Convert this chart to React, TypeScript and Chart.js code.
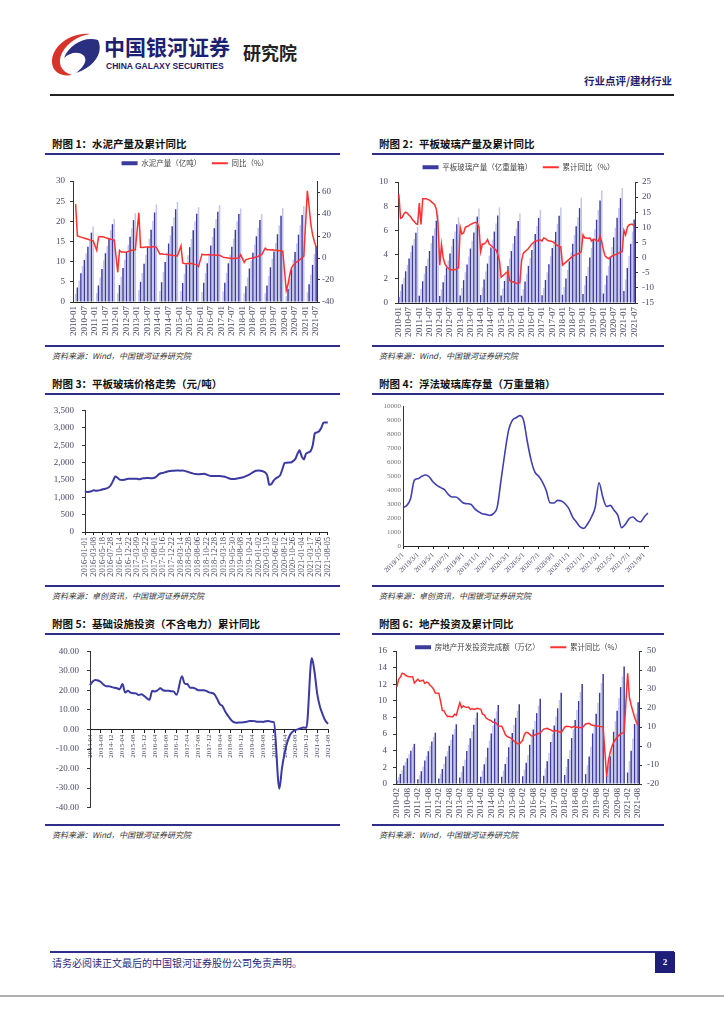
import React, { useEffect, useRef } from "react";
import { Chart, registerables } from "chart.js";

Chart.register(...registerables);

// ---------------- categories ----------------
function monthRange(y0: number, m0: number, y1: number, m1: number): string[] {
  const out: string[] = [];
  let y = y0;
  let m = m0;
  while (y < y1 || (y === y1 && m <= m1)) {
    out.push(`${y}-${m < 10 ? "0" + m : m}`);
    m += 1;
    if (m > 12) {
      m = 1;
      y += 1;
    }
  }
  return out;
}
function sparse(ticks: string[], n: number, every: number): string[] {
  const out: string[] = [];
  for (let i = 0; i < n; i++) out.push(i % every === 0 && ticks[i / every] ? ticks[i / every] : "");
  return out;
}

const cementMonths = monthRange(2010, 1, 2021, 7);
const glassMonths = monthRange(2010, 1, 2021, 7);
const estateMonths = monthRange(2010, 2, 2021, 8);
const infraMonths = monthRange(2014, 4, 2021, 8);

const priceTickDates = [
  "2016-01-01", "2016-03-08", "2016-05-18", "2016-07-28", "2016-10-14", "2016-12-22",
  "2017-03-09", "2017-05-22", "2017-08-01", "2017-10-16", "2017-12-22", "2018-03-14",
  "2018-05-28", "2018-08-06", "2018-10-22", "2018-12-28", "2019-03-18", "2019-05-30",
  "2019-08-08", "2019-10-24", "2020-01-02", "2020-03-19", "2020-06-02", "2020-08-12",
  "2020-10-26", "2021-01-04", "2021-03-17", "2021-05-26", "2021-08-05",
];
const stockTickDates = [
  "2019/1/1", "2019/3/1", "2019/5/1", "2019/7/1", "2019/9/1", "2019/11/1",
  "2020/1/1", "2020/3/1", "2020/5/1", "2020/7/1", "2020/9/1", "2020/11/1",
  "2021/1/1", "2021/3/1", "2021/5/1", "2021/7/1", "2021/9/1",
];

// ---------------- series ----------------
// 附图1 水泥产量（亿吨，年内累计）与累计同比（%）
const cementOutput = [
  null, 2.0, 3.6, 5.3, 7.1, 8.9, 10.4, 12.0, 13.7, 15.5, 17.2, 18.7,
  null, 2.2, 4.1, 6.1, 8.2, 10.3, 12.1, 13.9, 15.8, 17.8, 19.3, 20.6,
  null, 2.1, 4.2, 6.3, 8.4, 10.5, 12.4, 14.2, 16.2, 18.3, 20.3, 22.0,
  null, 3.0, 5.0, 7.2, 9.5, 11.7, 13.7, 15.7, 17.9, 20.1, 22.2, 24.2,
  null, 2.7, 4.9, 7.4, 9.9, 12.3, 14.5, 16.5, 18.8, 21.0, 23.0, 24.8,
  null, 2.7, 4.7, 7.0, 9.3, 11.6, 13.6, 15.6, 17.8, 20.0, 21.9, 23.5,
  null, 2.5, 4.8, 7.2, 9.6, 12.0, 14.0, 16.1, 18.3, 20.5, 22.4, 24.0,
  null, 2.6, 4.8, 7.2, 9.6, 11.7, 13.7, 15.7, 17.9, 20.0, 21.8, 23.2,
  null, 2.1, 3.9, 6.1, 8.3, 10.3, 12.2, 14.2, 16.3, 18.4, 20.3, 21.8,
  null, 2.2, 4.1, 6.4, 8.6, 10.7, 12.5, 14.6, 16.8, 19.0, 21.4, 23.3,
  null, 1.5, 3.3, 5.7, 8.2, 10.5, 12.4, 14.5, 16.7, 19.0, 21.6, 23.8,
  null, 2.4, 4.4, 6.8, 9.2, 11.9, 13.9,
];
const cementYoY = [
  null, 49, 20, 19.5, 19, 18.5, 18, 17.5, 17, 16.5, 16, 15.5,
  null, 7, 19, 19.5, 19.3, 19, 18.5, 18, 17.5, 17, 16.8, 16.1,
  null, -13, 7, 5.5, 5.5, 5.3, 5.5, 6, 6.5, 7, 7.3, 7.4,
  null, 41, 9.7, 9.5, 9.8, 10, 10, 9.8, 10, 10.2, 10.4, 9.6,
  null, 3.5, 3.8, 3.5, 3.3, 3.2, 3, 2.8, 2.5, 2.2, 2, 1.8,
  null, 11, -4.5, -5, -5.2, -5, -5, -5, -5.5, -5.8, -6, -7.8,
  null, 3.5, 3, 3, 3, 3, 3, 2.8, 2.7, 2.6, 2.5, 2.5,
  null, 0.8, 0.5, 0.3, 0, -0.2, -0.5, -0.5, -0.3, -0.2, 0, 3,
  null, -4, -1.5, -1, -0.5, -0.3, 0, 0.5, 1, 1.5, 2.5, 3,
  null, 9, 7.5, 7.5, 7.3, 7.5, 7.2, 7, 6.8, 6.5, 6.5, 6.1,
  null, -29.5, -23.9, -15, -9, -6.5, -4.8, -3.5, -2.5, -1, 0, 1.6,
  null, 61, 47, 30.5, 21, 15, 10,
];

// 附图2 平板玻璃产量（亿重量箱）与累计同比（%）
const glassOutput = [
  0.5, 1.0, 1.55, 2.08, 2.62, 3.15, 3.68, 4.22, 4.75, 5.28, 5.8, 6.3,
  0.6, 1.18, 1.8, 2.42, 3.05, 3.68, 4.3, 4.93, 5.55, 6.18, 6.8, 7.4,
  0.57, 1.12, 1.72, 2.31, 2.91, 3.51, 4.1, 4.7, 5.3, 5.9, 6.5, 7.1,
  0.63, 1.24, 1.89, 2.54, 3.19, 3.84, 4.5, 5.15, 5.82, 6.48, 7.14, 7.8,
  0.66, 1.28, 1.95, 2.6, 3.26, 3.91, 4.58, 5.24, 5.9, 6.57, 7.24, 7.9,
  0.62, 1.2, 1.82, 2.44, 3.06, 3.68, 4.29, 4.91, 5.53, 6.15, 6.77, 7.4,
  0.6, 1.15, 1.78, 2.42, 3.07, 3.72, 4.38, 5.04, 5.7, 6.36, 7.03, 7.7,
  0.64, 1.25, 1.9, 2.55, 3.21, 3.87, 4.54, 5.21, 5.88, 6.55, 7.22, 7.9,
  0.68, 1.32, 2.03, 2.74, 3.45, 4.17, 4.89, 5.62, 6.35, 7.08, 7.84, 8.7,
  0.75, 1.46, 2.23, 3.0, 3.77, 4.54, 5.31, 6.09, 6.88, 7.68, 8.48, 9.3,
  0.78, 1.5, 2.27, 3.05, 3.84, 4.63, 5.43, 6.23, 7.04, 7.85, 8.67, 9.5,
  1.0, 1.95, 2.9, 3.9, 4.9, 5.9, 6.9,
];
const glassYoY = [
  21, 13, 13.3, 14.5, 15, 14.7, 14, 13.5, 12.5, 12, 11.2, 11,
  18, 11, 19.5, 19.5, 19.5, 19.2, 19, 18.5, 18, 17.5, 16, 11,
  -2.5, 4.3, 0, -2, -3, -3.5, -4, -4, -4, -4, -3.7, -3.3,
  10, 7.8, 8.2, 10, 10.3, 10.5, 11, 11.2, 11.5, 11.7, 11.3, 10,
  2, 4.5, 4.5, 5, 6, 4.5, 4, 3.5, 3, 2.5, 1, -1,
  -6.5, -6, -5.5, -5, -4.5, -7.5, -8, -8, -8.3, -8.5, -8.5, -8.3,
  -1, 1.5, 2, 2.5, 3, 3.8, 4.5, 5, 5.5, 5.6, 5.8, 5.8,
  5.5, 6.5, 6.3, 5.8, 5.5, 5.5, 5.3, 5, 4.5, 4, 3.8, 3.5,
  -2.5, -2, -1.5, -1, -0.5, 0, 0.5, 0.8, 1, 1.3, 1.5, 2,
  7.5, 6.5, 6.5, 6.3, 6.5, 5.5, 6, 6, 5.5, 5.5, 7, 5.2,
  2.5, 0.5, 0, -0.3, 0, 0.5, 0.8, 1, 1.2, 1.5, 1.8, 2,
  9, 7.5, 10, 10.8, 11, 11, 10.5,
];

// 附图3 平板玻璃价格（元/吨）
const glassPrice = [
  1180, 1150, 1160, 1175, 1200, 1190, 1195, 1205, 1225, 1240, 1255, 1285,
  1360, 1480, 1600, 1560, 1510, 1500, 1505, 1520, 1530, 1530, 1530, 1535,
  1530, 1515, 1535, 1545, 1550, 1555, 1550, 1550, 1560, 1600, 1660, 1690,
  1700, 1720, 1740, 1755, 1760, 1765, 1770, 1770, 1765, 1770, 1760, 1740,
  1720, 1700, 1680, 1670, 1665, 1665, 1670, 1675, 1655, 1630, 1615, 1610,
  1610, 1610, 1610, 1605, 1595, 1580, 1555, 1535, 1525, 1525, 1540, 1550,
  1560, 1575, 1600, 1630, 1660, 1700, 1740, 1765, 1770, 1765, 1750, 1720,
  1640, 1360, 1380, 1480, 1540, 1580, 1630, 1800, 1980, 1995, 2000, 2000,
  2040, 2100, 2250, 2350, 2170, 2090, 2260, 2290, 2320, 2480, 2840, 2870,
  2900, 3000, 3150, 3150, 3150,
];

// 附图4 浮法玻璃库存（万重量箱）
const glassStock = [
  2740, 2900, 3380, 4690, 4810, 4980, 5070, 4930, 4570, 4330, 4170, 4020,
  3690, 3500, 3500, 3310, 3070, 3020, 2980, 2670, 2450, 2310, 2260, 2190,
  2310, 2780, 4690, 6590, 8260, 8970, 9160, 9310, 8970, 7430, 6120, 5280,
  4980, 4570, 3970, 3090, 3070, 3260, 3210, 3020, 2670, 2070, 1710, 1360,
  1260, 1590, 2070, 2780, 4520, 3500, 2830, 2900, 2550, 2190, 1310, 1550,
  1950, 2070, 1830, 1710, 2070, 2360,
];

// 附图5 基础设施投资（不含电力）累计同比（%）
const infraYoY = [
  22.7, 24.6, 25.4, 25.1, 24.3, 23.0, 22.2, 22.2, 21.7,
  null, 21.1, 20.6, 23.3, 18.9, 19.8, 18.9, 18.6, 18.5, 17.7, 18.1, 17.2,
  null, 15.2, 19.8, 19.4, 20.1, 21.1, 20.1, 19.8, 19.8, 19.6, 19.4, 17.8,
  null, 27.3, 23.5, 23.3, 21.4, 21.4, 20.9, 20.1, 20.1, 20.1, 19.8, 19.0,
  null, 18.1, 15.7, 13.0, 12.0, 9.2, 7.1, 5.2, 3.9, 3.4, 3.6, 3.6,
  null, 4.0, 4.4, 4.4, 4.2, 4.0, 4.0, 3.9, 4.2, 4.4, 4.0, 3.7,
  null, -30.3, -19.7, -11.8, -6.3, -2.7, -1.0, -0.3, 0.2, 0.7, 1.0, 0.9,
  null, 36.6, 29.7, 18.4, 11.8, 7.8, 4.6, 2.9,
];

// 附图6 房地产开发投资完成额（万亿）与累计同比（%）
const estateInvest = [
  0.43, 0.82, 1.21, 1.64, 2.22, 2.66, 3.09, 3.57, 4.01, 4.44, 4.83,
  null, 0.56, 1.05, 1.54, 2.1, 2.84, 3.39, 3.95, 4.57, 5.12, 5.68, 6.17,
  null, 0.65, 1.22, 1.8, 2.44, 3.3, 3.95, 4.6, 5.31, 5.96, 6.61, 7.18,
  null, 0.77, 1.46, 2.15, 2.92, 3.96, 4.73, 5.5, 6.36, 7.14, 7.91, 8.6,
  null, 0.86, 1.62, 2.38, 3.23, 4.37, 5.23, 6.08, 7.03, 7.89, 8.74, 9.5,
  null, 0.86, 1.63, 2.4, 3.26, 4.42, 5.28, 6.14, 7.1, 7.97, 8.83, 9.6,
  null, 0.92, 1.74, 2.57, 3.49, 4.72, 5.64, 6.57, 7.59, 8.52, 9.44, 10.26,
  null, 0.99, 1.87, 2.75, 3.73, 5.05, 6.04, 7.03, 8.13, 9.11, 10.1, 10.98,
  null, 1.08, 2.05, 3.01, 4.09, 5.53, 6.62, 7.7, 8.9, 9.98, 11.07, 12.03,
  null, 1.19, 2.25, 3.31, 4.49, 6.08, 7.27, 8.46, 9.78, 10.97, 12.16, 13.22,
  null, 1.0, 2.16, 3.34, 4.58, 6.29, 7.55, 8.82, 10.31, 11.66, 12.94, 14.14,
  null, 1.38, 2.76, 4.01, 5.46, 7.22, 8.49, 9.83,
];
const estateYoY = [
  31.1, 35.1, 36.2, 38.2, 38.1, 37.2, 36.7, 36.4, 36.5, 36.5, 33.2,
  null, 35.2, 34.1, 34.3, 34.6, 32.9, 33.6, 33.2, 32.0, 31.1, 29.9, 27.9,
  null, 27.8, 23.5, 18.7, 18.5, 16.6, 15.4, 15.6, 15.4, 15.4, 16.7, 16.2,
  null, 22.8, 20.2, 21.1, 20.6, 20.3, 20.5, 19.3, 19.7, 19.2, 19.5, 19.8,
  null, 19.3, 16.8, 16.4, 14.7, 14.1, 13.7, 13.2, 12.5, 12.4, 11.9, 10.5,
  null, 10.4, 8.5, 6.0, 5.1, 4.6, 4.3, 3.5, 2.6, 2.0, 1.3, 1.0,
  null, 3.0, 6.2, 7.2, 7.0, 6.1, 5.3, 5.4, 5.8, 6.6, 6.5, 6.9,
  null, 8.9, 9.1, 9.3, 8.8, 8.5, 7.9, 7.9, 8.1, 7.8, 7.5, 7.0,
  null, 9.9, 10.4, 10.3, 10.2, 9.7, 10.2, 10.1, 9.9, 9.7, 9.7, 9.5,
  null, 11.6, 11.8, 11.9, 11.2, 10.9, 10.6, 10.5, 10.5, 10.3, 10.2, 9.9,
  null, -16.3, -7.7, -3.3, -0.3, 1.9, 3.4, 4.6, 5.6, 6.3, 6.8, 7.0,
  null, 38.3, 25.6, 21.6, 18.3, 15.0, 12.7, 10.9,
];

const priceCats = sparse(priceTickDates, glassPrice.length, 4);
const stockCats = sparse(stockTickDates, glassStock.length, 4);

// ---------------- styles ----------------
const SERIF = "'Liberation Serif', 'DejaVu Serif', serif";
const CJK = "'Noto Sans CJK SC', 'Noto Sans', sans-serif";
const NAVY = "#2e2e8c";
const DARK = "#3b3b9c";
const LIGHT = "#c4c4ea";
const RED = "#ff3030";
const LINE_BLUE = "#3a3aa2";
const AXIS = "#333333";
const TICK = "#4a4a6a";

const barColor = (c: any) => (c.dataIndex % 2 ? LIGHT : DARK);

const legendShift = {
  id: "legendShift",
  afterLayout(chart: any, _args: any, opts: any) {
    const l = chart.legend;
    if (l && opts && opts.dy) {
      l.top += opts.dy;
      l.bottom += opts.dy;
    }
  },
};

function legendOpts() {
  return {
    display: true,
    position: "top",
    align: "center",
    labels: {
      font: { family: CJK, size: 7.5 },
      color: "#444",
      usePointStyle: true,
      pointStyleWidth: 16,
      padding: 10.5,
      sort: (a: any, b: any) => a.datasetIndex - b.datasetIndex,
      generateLabels(chart: any) {
        const items = (Chart.defaults.plugins.legend.labels as any).generateLabels(chart);
        return items.map((it: any) => {
          const ds = chart.data.datasets[it.datasetIndex];
          const bar = ds.type === "bar";
          return {
            ...it,
            pointStyle: "line",
            strokeStyle: bar ? DARK : RED,
            fillStyle: bar ? DARK : RED,
            lineWidth: bar ? 4 : 2,
            lineCap: "butt",
          };
        });
      },
    },
  };
}

function yScale(o: {
  min: number; max: number; step: number; width?: number; position?: string;
  size?: number; pad?: number; marks?: boolean; fmt?: (v: number) => string; color?: string;
}) {
  const marks = o.marks !== false;
  const s: any = {
    type: "linear",
    position: o.position || "left",
    min: o.min,
    max: o.max,
    grid: { display: marks, drawOnChartArea: false, drawTicks: marks, tickLength: 3, color: AXIS },
    border: { display: true, color: AXIS, width: 1 },
    ticks: {
      stepSize: o.step,
      color: o.color || TICK,
      font: { family: SERIF, size: o.size || 9 },
      padding: o.pad === undefined ? 5 : o.pad,
      callback: o.fmt || ((v: number) => String(v)),
    },
  };
  if (o.width !== undefined) {
    const w = o.width;
    s.afterFit = (sc: any) => {
      sc.width = w;
    };
  }
  return s;
}

function xBarScale(height: number, size: number, show: (l: string) => boolean) {
  return {
    type: "category",
    grid: { display: false, drawTicks: false },
    border: { display: true, color: "#222", width: 1 },
    ticks: {
      autoSkip: false,
      minRotation: 90,
      maxRotation: 90,
      padding: 4,
      color: TICK,
      font: { family: SERIF, size },
      callback(this: any, value: any) {
        const l = this.getLabelForValue(value);
        return show(l) ? l : "";
      },
    },
    afterFit: (sc: any) => {
      sc.height = height;
    },
  };
}

function xSparseScale(size: number, rotation: number, height?: number, every?: number) {
  const s: any = {
    type: "category",
    grid: {
      display: true,
      drawOnChartArea: false,
      drawTicks: true,
      tickLength: 3,
      color: (c: any) => (c.tick && c.tick.label ? "#222" : "rgba(0,0,0,0)"),
    },
    border: { display: true, color: "#222", width: 1 },
    ticks: {
      autoSkip: false,
      minRotation: rotation,
      maxRotation: rotation,
      padding: 2,
      color: TICK,
      font: { family: SERIF, size },
      callback(this: any, value: any, index: number) {
        const l = this.getLabelForValue(value);
        if (every) return index % every === 0 ? l : "";
        return l;
      },
    },
  };
  if (height !== undefined) {
    s.afterFit = (sc: any) => {
      sc.height = height;
    };
  }
  return s;
}

const baseOpts = {
  responsive: false,
  animation: false,
  devicePixelRatio: 1,
  events: [],
};

// ---------------- chart configs ----------------
const cfgCement = () => ({
  type: "bar",
  data: {
    labels: cementMonths,
    datasets: [
      { type: "bar", label: "水泥产量（亿吨）", data: cementOutput, backgroundColor: barColor, yAxisID: "y", order: 2, barPercentage: 1, categoryPercentage: 0.85 },
      { type: "line", label: "同比（%）", data: cementYoY, borderColor: RED, backgroundColor: RED, borderWidth: 1.5, pointRadius: 0, spanGaps: true, yAxisID: "y1", order: 1 },
    ],
  },
  options: {
    ...baseOpts,
    layout: { padding: 0 },
    plugins: { legend: legendOpts(), tooltip: { enabled: false }, legendShift: { dy: -4 } },
    scales: {
      x: xBarScale(43, 9, (l) => l.endsWith("-01") || l.endsWith("-07")),
      y: yScale({ min: 0, max: 30, step: 5, width: 28 }),
      y1: yScale({ min: -40, max: 70, step: 10, width: 28, position: "right", pad: 2 }),
    },
  },
  plugins: [legendShift],
});

const cfgGlass = () => ({
  type: "bar",
  data: {
    labels: glassMonths,
    datasets: [
      { type: "bar", label: "平板玻璃产量（亿重量箱）", data: glassOutput, backgroundColor: barColor, yAxisID: "y", order: 2, barPercentage: 1, categoryPercentage: 0.85 },
      { type: "line", label: "累计同比（%）", data: glassYoY, borderColor: RED, backgroundColor: RED, borderWidth: 1.5, pointRadius: 0, spanGaps: true, yAxisID: "y1", order: 1 },
    ],
  },
  options: {
    ...baseOpts,
    layout: { padding: 0 },
    plugins: { legend: legendOpts(), tooltip: { enabled: false }, legendShift: { dy: -1 } },
    scales: {
      x: xBarScale(42, 9, (l) => l.endsWith("-01") || l.endsWith("-07")),
      y: yScale({ min: 0, max: 10, step: 1, width: 26, pad: 7 }),
      y1: yScale({ min: -15, max: 25, step: 5, width: 30, position: "right", pad: 4 }),
    },
  },
  plugins: [legendShift],
});

const cfgPrice = () => ({
  type: "line",
  data: {
    labels: priceCats,
    datasets: [
      { label: "平板玻璃价格", data: glassPrice, borderColor: LINE_BLUE, backgroundColor: LINE_BLUE, borderWidth: 2, pointRadius: 0, tension: 0.2 },
    ],
  },
  options: {
    ...baseOpts,
    layout: { padding: { top: 10, right: 7, left: 0, bottom: 0 } },
    plugins: { legend: { display: false }, tooltip: { enabled: false } },
    scales: {
      x: xSparseScale(8.5, 90, 50),
      y: yScale({ min: 0, max: 3500, step: 500, width: 40, pad: 8, fmt: (v) => Number(v).toLocaleString("en-US") }),
    },
  },
});

const cfgStock = () => ({
  type: "line",
  data: {
    labels: stockCats,
    datasets: [
      { label: "浮法玻璃库存", data: glassStock, borderColor: "#4040b0", backgroundColor: "#4040b0", borderWidth: 1.6, pointRadius: 0, cubicInterpolationMode: "monotone" },
    ],
  },
  options: {
    ...baseOpts,
    layout: { padding: { top: 10, right: 17, left: 0, bottom: 0 } },
    plugins: { legend: { display: false }, tooltip: { enabled: false } },
    scales: {
      x: xSparseScale(7, 45, 36),
      y: yScale({ min: 0, max: 10000, step: 1000, width: 31, pad: 2, marks: false, size: 7, color: "#777" }),
    },
  },
});

const cfgInfra = () => ({
  type: "line",
  data: {
    labels: infraMonths,
    datasets: [
      { label: "基础设施投资累计同比", data: infraYoY, borderColor: LINE_BLUE, backgroundColor: LINE_BLUE, borderWidth: 2, pointRadius: 0, spanGaps: true, tension: 0.3, cubicInterpolationMode: "monotone" },
    ],
  },
  options: {
    ...baseOpts,
    layout: { padding: { top: 10, right: 12, left: 0, bottom: 8 } },
    plugins: { legend: { display: false }, tooltip: { enabled: false } },
    scales: {
      x: { ...xSparseScale(7, 90, undefined, 4), position: { y: 0 } },
      y: yScale({ min: -40, max: 40, step: 10, width: 45, pad: 8, fmt: (v) => Number(v).toFixed(2) }),
    },
  },
});

const cfgEstate = () => ({
  type: "bar",
  data: {
    labels: estateMonths,
    datasets: [
      { type: "bar", label: "房地产开发投资完成额（万亿）", data: estateInvest, backgroundColor: barColor, yAxisID: "y", order: 2, barPercentage: 1, categoryPercentage: 0.85 },
      { type: "line", label: "累计同比（%）", data: estateYoY, borderColor: RED, backgroundColor: RED, borderWidth: 1.5, pointRadius: 0, spanGaps: true, yAxisID: "y1", order: 1 },
    ],
  },
  options: {
    ...baseOpts,
    layout: { padding: 0 },
    plugins: { legend: legendOpts(), tooltip: { enabled: false }, legendShift: { dy: 10 } },
    scales: {
      x: xBarScale(39, 9, (l) => l.endsWith("-02") || l.endsWith("-08")),
      y: yScale({ min: 0, max: 16, step: 2, width: 24, pad: 6 }),
      y1: yScale({ min: -20, max: 50, step: 10, width: 26, position: "right", pad: 5 }),
    },
  },
  plugins: [legendShift],
});

// ---------------- components ----------------
type Box = { left: number; top: number; width: number; height: number };

function ChartCanvas({ box, make }: { box: Box; make: () => any }) {
  const ref = useRef<HTMLCanvasElement | null>(null);
  useEffect(() => {
    if (!ref.current) return;
    const chart = new Chart(ref.current, make());
    return () => chart.destroy();
  }, []);
  return (
    <canvas
      ref={ref}
      width={box.width}
      height={box.height}
      style={{ position: "absolute", left: box.left, top: box.top, width: box.width, height: box.height }}
    />
  );
}

function Text({ x, y, size, children, style }: { x: number; y: number; size: number; children: any; style?: any }) {
  return (
    <div
      style={{
        position: "absolute",
        left: x,
        top: y - size * 0.75,
        fontSize: size,
        lineHeight: `${size * 1.5}px`,
        whiteSpace: "nowrap",
        fontFamily: CJK,
        ...style,
      }}
    >
      {children}
    </div>
  );
}

function Rule({ x1, x2, y, h = 2, color = NAVY }: { x1: number; x2: number; y: number; h?: number; color?: string }) {
  return <div style={{ position: "absolute", left: x1, top: y - h / 2, width: x2 - x1, height: h, background: color }} />;
}

function Panel({ x1, x2, titleY, bottomY, title, source }: { x1: number; x2: number; titleY: number; bottomY: number; title: string; source: string }) {
  return (
    <>
      <Text x={x1 + 7} y={titleY} size={10.5} style={{ fontWeight: 700, color: "#111" }}>
        {title}
      </Text>
      <Rule x1={x1} x2={x2} y={titleY + 10} />
      <Rule x1={x1} x2={x2} y={bottomY} />
      <Text x={x1 + 7} y={bottomY + 10} size={8} style={{ fontStyle: "italic", color: "#333" }}>
        {source}
      </Text>
    </>
  );
}

function Logo() {
  return (
    <svg width={54} height={46} viewBox="0 0 54 46" style={{ position: "absolute", left: 48, top: 31 }}>
      <path d="M42 3 C22 1 3 16 4 32 C5 41 13 46 24 44 C13 41 9 32 14 22 C20 11 30 5 42 3 Z" fill="#d8332a" />
      <path d="M50 9 C56 22 46 36 28 42 C37 35 40 28 35 24 C30 20 21 22 16 27 C21 14 36 5 50 9 Z" fill="#2a2f80" />
    </svg>
  );
}

export default function App() {
  useEffect(() => {
    document.body.style.margin = "0";
  }, []);
  return (
    <div style={{ position: "absolute", left: 0, top: 0, width: 724, height: 1024, background: "#fff", overflow: "hidden" }}>
      {/* header */}
      <Logo />
      <div style={{ position: "absolute", left: 104, top: 33, fontFamily: CJK, fontWeight: 700, fontSize: 21, lineHeight: "26px", color: "#1c2070", whiteSpace: "nowrap" }}>
        中国银河证券
      </div>
      <div style={{ position: "absolute", left: 106, top: 61, fontFamily: "'Liberation Sans', Arial, sans-serif", fontWeight: 700, fontSize: 8.5, lineHeight: "10px", color: "#1c2070", whiteSpace: "nowrap" }}>
        CHINA GALAXY SECURITIES
      </div>
      <div style={{ position: "absolute", left: 243, top: 41, fontFamily: CJK, fontWeight: 700, fontSize: 18, lineHeight: "22px", color: "#222", whiteSpace: "nowrap" }}>
        研究院
      </div>
      <div style={{ position: "absolute", right: 52, top: 74, fontFamily: CJK, fontWeight: 700, fontSize: 10.5, lineHeight: "14px", color: "#1e1e6e", whiteSpace: "nowrap" }}>
        行业点评/建材行业
      </div>
      <Rule x1={50} x2={674} y={95} h={2} color="#222" />

      {/* panels */}
      <Panel x1={45} x2={340} titleY={144} bottomY={346} title="附图 1：水泥产量及累计同比" source="资料来源：Wind，中国银河证券研究院" />
      <Panel x1={372} x2={664} titleY={144} bottomY={346} title="附图 2：平板玻璃产量及累计同比" source="资料来源：Wind，中国银河证券研究院" />
      <Panel x1={45} x2={340} titleY={384} bottomY={586} title="附图 3：平板玻璃价格走势（元/吨）" source="资料来源：卓创资讯，中国银河证券研究院" />
      <Panel x1={372} x2={664} titleY={384} bottomY={586} title="附图 4：浮法玻璃库存量（万重量箱）" source="资料来源：卓创资讯，中国银河证券研究院" />
      <Panel x1={45} x2={340} titleY={624} bottomY={825} title="附图 5：基础设施投资（不含电力）累计同比" source="资料来源：Wind，中国银河证券研究院" />
      <Panel x1={372} x2={664} titleY={624} bottomY={825} title="附图 6：地产投资及累计同比" source="资料来源：Wind，中国银河证券研究院" />

      <ChartCanvas box={{ left: 45, top: 153, width: 300, height: 192 }} make={cfgCement} />
      <ChartCanvas box={{ left: 372, top: 154, width: 293, height: 191 }} make={cfgGlass} />
      <ChartCanvas box={{ left: 45, top: 397, width: 295, height: 185 }} make={cfgPrice} />
      <ChartCanvas box={{ left: 372, top: 396, width: 293, height: 186 }} make={cfgStock} />
      <ChartCanvas box={{ left: 45, top: 638, width: 295, height: 183 }} make={cfgInfra} />
      <ChartCanvas box={{ left: 372, top: 623, width: 293, height: 200 }} make={cfgEstate} />

      {/* footer */}
      <Rule x1={50} x2={674} y={952} h={2} color={NAVY} />
      <Text x={52} y={962} size={10} style={{ color: "#2a2a7a" }}>
        请务必阅读正文最后的中国银河证券股份公司免责声明。
      </Text>
      <div style={{ position: "absolute", left: 655, top: 952, width: 20, height: 21, background: "#1e1e78", color: "#fff", fontFamily: SERIF, fontWeight: 700, fontSize: 9, lineHeight: "21px", textAlign: "center" }}>
        2
      </div>
      <Rule x1={0} x2={724} y={996} h={2} color="#b0b0b0" />
    </div>
  );
}
